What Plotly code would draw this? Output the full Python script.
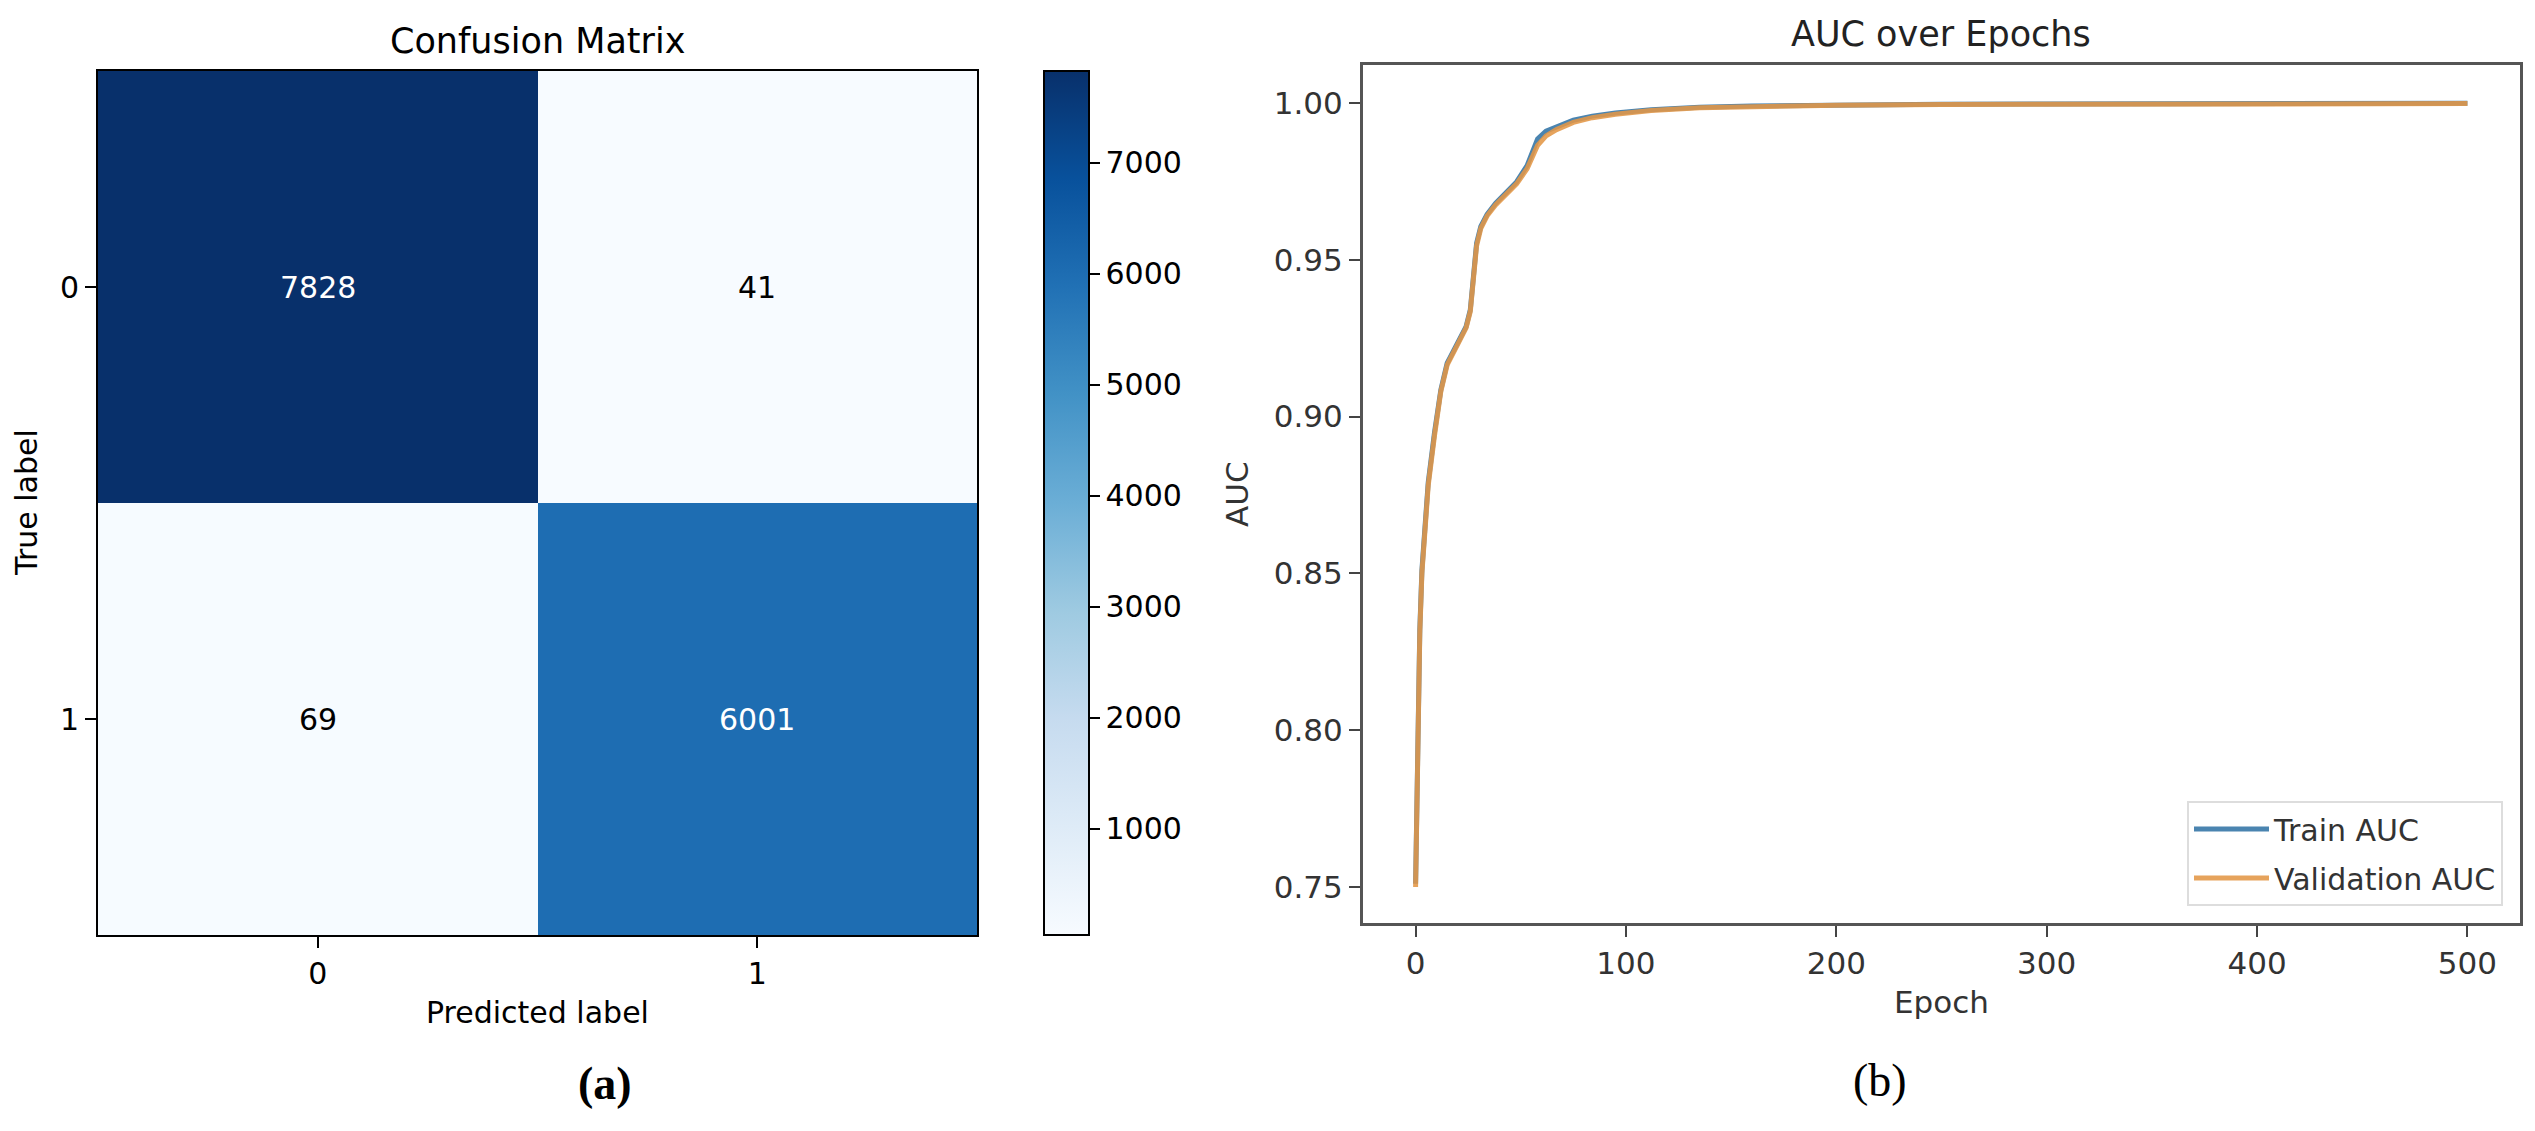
import plotly.graph_objects as go

W, H = 2535, 1131


def px(x):
    return x / W


def py(y):
    return 1 - y / H


# ---------------- data ----------------
cm_labels = ["0", "1"]
cm_values = [[7828, 41], [69, 6001]]
cb_ticks = [1000, 2000, 3000, 4000, 5000, 6000, 7000]

epochs = [0, 1, 2, 3, 4, 6, 9, 12, 15, 20, 24, 26, 27, 29, 31, 34, 38, 43, 48, 53,
          58, 62, 67, 75, 84, 95, 112, 135, 160, 200, 250, 300, 350, 400, 450, 500]
train_auc = [0.751, 0.800, 0.832, 0.851, 0.862, 0.879, 0.895, 0.9085, 0.917, 0.9234,
             0.9287, 0.9340, 0.9420, 0.9553, 0.9606, 0.9645, 0.9680, 0.9715, 0.9748, 0.9800,
             0.9885, 0.9910, 0.9925, 0.9945, 0.9958, 0.9968, 0.9978, 0.9986, 0.9990, 0.9994,
             0.9996, 0.9997, 0.9998, 0.9998, 0.9999, 0.9999]
val_auc = [0.750, 0.799, 0.831, 0.850, 0.861, 0.878, 0.894, 0.9080, 0.9165, 0.9230,
           0.9283, 0.9335, 0.9412, 0.9545, 0.9600, 0.9640, 0.9675, 0.9710, 0.9742, 0.9790,
           0.9865, 0.9895, 0.9915, 0.9938, 0.9953, 0.9964, 0.9976, 0.9985, 0.9989, 0.9993,
           0.9995, 0.9996, 0.9997, 0.9997, 0.9998, 0.9998]
x_ticks = [0, 100, 200, 300, 400, 500]
y_ticks = [0.75, 0.80, 0.85, 0.90, 0.95, 1.00]

# ---------------- styling ----------------
FONT = "DejaVu Sans"
blues = [
    [0.000, "#f7fbff"], [0.125, "#deebf7"], [0.250, "#c6dbef"],
    [0.375, "#9ecae1"], [0.500, "#6baed6"], [0.625, "#4292c6"],
    [0.750, "#2171b5"], [0.875, "#08519c"], [1.000, "#08306b"],
]
zmin = min(min(r) for r in cm_values)
zmax = max(max(r) for r in cm_values)

fig = go.Figure()

fig.add_trace(go.Heatmap(
    x=cm_labels, y=cm_labels, z=cm_values,
    colorscale=blues, zmin=zmin, zmax=zmax,
    xaxis="x", yaxis="y", hoverinfo="skip",
    colorbar=dict(
        thickness=45, thicknessmode="pixels",
        len=864, lenmode="pixels",
        x=px(1044), xanchor="left", y=py(71), yanchor="top",
        xpad=0, ypad=0,
        outlinewidth=2, outlinecolor="black",
        tickvals=cb_ticks, tickformat="d",
        ticks="outside", ticklen=10, tickwidth=2, tickcolor="black",
        tickfont=dict(family=FONT, size=30, color="black"),
    ),
))

fig.add_trace(go.Scatter(
    x=epochs, y=train_auc, mode="lines", name="Train AUC",
    legendgroup="train",
    line=dict(color="#4a84b0", width=5),
    xaxis="x2", yaxis="y2",
))
fig.add_trace(go.Scatter(
    x=epochs, y=val_auc, mode="lines", name="Validation AUC",
    legendgroup="val",
    line=dict(color="rgba(226,150,70,0.88)", width=5),
    xaxis="x2", yaxis="y2",
))

annotations = []
thresh = zmax / 2
for i, row in enumerate(cm_values):
    for j, v in enumerate(row):
        annotations.append(dict(
            x=cm_labels[j], y=cm_labels[i], xref="x", yref="y",
            text=str(v), showarrow=False,
            font=dict(family=FONT, size=30, color="white" if v > thresh else "black"),
        ))

annotations += [
    dict(text="Confusion Matrix", x=px(537), y=py(41), xref="paper", yref="paper",
         showarrow=False, xanchor="center", yanchor="middle",
         font=dict(family=FONT, size=35, color="black")),
    dict(text="Predicted label", x=px(537), y=py(1012), xref="paper", yref="paper",
         showarrow=False, xanchor="center", yanchor="middle",
         font=dict(family=FONT, size=30, color="black")),
    dict(text="True label", x=px(27), y=py(503), xref="paper", yref="paper",
         showarrow=False, xanchor="center", yanchor="middle", textangle=-90,
         font=dict(family=FONT, size=30, color="black")),
    dict(text="AUC over Epochs", x=px(1941), y=py(34), xref="paper", yref="paper",
         showarrow=False, xanchor="center", yanchor="middle",
         font=dict(family=FONT, size=35, color="#222")),
    dict(text="Epoch", x=px(1941), y=py(1002), xref="paper", yref="paper",
         showarrow=False, xanchor="center", yanchor="middle",
         font=dict(family=FONT, size=31, color="#333")),
    dict(text="AUC", x=px(1237), y=py(494), xref="paper", yref="paper",
         showarrow=False, xanchor="center", yanchor="middle", textangle=-90,
         font=dict(family=FONT, size=31, color="#333")),
    dict(text="<b>(a)</b>", x=px(605), y=py(1083), xref="paper", yref="paper",
         showarrow=False, xanchor="center", yanchor="middle",
         font=dict(family="Liberation Serif", size=46, color="black")),
    dict(text="(b)", x=px(1880), y=py(1080), xref="paper", yref="paper",
         showarrow=False, xanchor="center", yanchor="middle",
         font=dict(family="Liberation Serif", size=46, color="black")),
]

axis_common = dict(showgrid=False, zeroline=False, showline=True, mirror=True,
                   ticks="outside", ticklen=11, tickwidth=2)

fig.update_layout(
    width=W, height=H,
    margin=dict(l=0, r=0, t=0, b=0),
    paper_bgcolor="white", plot_bgcolor="white",
    font=dict(family=FONT),
    xaxis=dict(domain=[px(98), px(977)], anchor="y", type="category",
               linecolor="black", linewidth=2, tickcolor="black",
               tickfont=dict(family=FONT, size=30, color="black"), **axis_common),
    yaxis=dict(domain=[py(935), py(71)], anchor="x", type="category",
               autorange="reversed",
               linecolor="black", linewidth=2, tickcolor="black",
               tickfont=dict(family=FONT, size=30, color="black"), **axis_common),
    xaxis2=dict(domain=[px(1363), px(2520)], anchor="y2", range=[-25, 525],
                tickvals=x_ticks,
                linecolor="#555", linewidth=3, tickcolor="#444",
                tickfont=dict(family=FONT, size=31, color="#333"), **axis_common),
    yaxis2=dict(domain=[py(923), py(65)], anchor="x2", range=[0.7385, 1.0121],
                tickvals=y_ticks, tickformat=".2f",
                linecolor="#555", linewidth=3, tickcolor="#444",
                tickfont=dict(family=FONT, size=31, color="#333"), **axis_common),
    legend=dict(x=px(2503), xanchor="right", y=py(906), yanchor="bottom",
                bgcolor="white", bordercolor="#dddddd", borderwidth=2,
                font=dict(family=FONT, size=30, color="#333"),
                itemwidth=75, tracegroupgap=7),
    annotations=annotations,
    showlegend=True,
)

fig.write_html("out.html")
